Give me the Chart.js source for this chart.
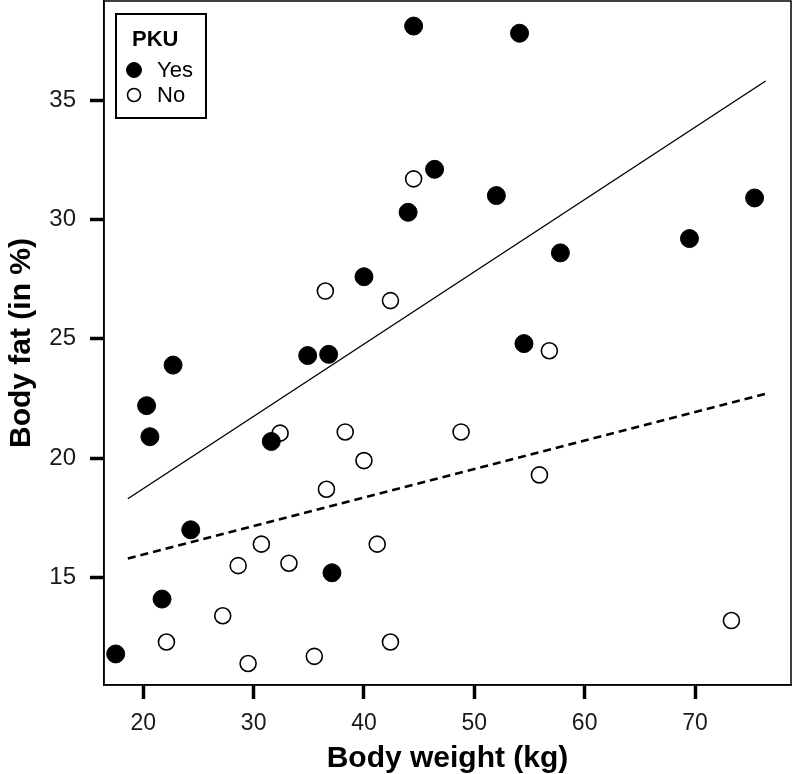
<!DOCTYPE html>
<html>
<head>
<meta charset="utf-8">
<script src="https://cdn.jsdelivr.net/npm/chart.js@4.4.1/dist/chart.umd.min.js"></script>
<style>
  html, body { margin: 0; padding: 0; background: #fff; }
  canvas { display: block; }
</style>
</head>
<body>
<canvas id="fatChart" width="793" height="774"></canvas>
<script>
// PKU = Yes (filled dots)
const yesWeight = [17.5, 20.3, 20.6, 22.7, 21.7, 24.3, 31.6, 34.9, 36.8, 37.1, 40.0, 44.0, 44.5, 46.4, 52.0, 54.1, 54.5, 57.8, 69.5, 75.4];
const yesFat    = [11.8, 22.2, 20.9, 23.9, 14.1, 17.0, 20.7, 24.3, 24.35, 15.2, 27.6, 30.3, 38.1, 32.1, 31.0, 37.8, 24.8, 28.6, 29.2, 30.9];

// PKU = No (open dots)
const noWeight = [22.1, 27.2, 28.6, 29.5, 30.7, 32.4, 33.2, 35.5, 36.5, 36.6, 38.3, 40.0, 41.2, 42.4, 42.4, 44.5, 48.8, 55.9, 56.8, 73.3];
const noFat    = [12.3, 13.4, 15.5, 11.4, 16.4, 21.05, 15.6, 11.7, 27.0, 18.7, 21.1, 19.9, 16.4, 12.3, 26.6, 31.7, 21.1, 19.3, 24.5, 13.2];

// fitted lines, read at both ends
const yesFitWeight = [18.6, 76.4];
const yesFitFat    = [18.3, 35.8];
const noFitWeight  = [18.6, 76.4];
const noFitFat     = [15.8, 22.7];

const xTickValues = [20, 30, 40, 50, 60, 70];
const yTickValues = [15, 20, 25, 30, 35];

const toPoints = (xs, ys) => xs.map((x, i) => ({ x: x, y: ys[i] }));

const FONT = "'Liberation Sans', Arial, sans-serif";

// frame round the plot area
const frameBox = {
    id: 'frameBox',
    afterDatasetsDraw(chart) {
        const { ctx, chartArea: a } = chart;
        ctx.save();
        ctx.strokeStyle = '#000';
        ctx.lineWidth = 1.5;
        ctx.strokeRect(a.left, a.top, a.right - a.left, a.bottom - a.top);
        ctx.restore();
    }
};

// boxed legend in the top left corner
const pkuLegend = {
    id: 'pkuLegend',
    afterDraw(chart) {
        const { ctx, chartArea: a } = chart;
        const sets = chart.data.datasets.filter(d => d.inLegend);
        const x0 = a.left + 12, y0 = a.top + 13;
        ctx.save();
        ctx.strokeStyle = '#000';
        ctx.lineWidth = 2;
        ctx.fillStyle = '#fff';
        ctx.fillRect(x0, y0, 90, 104);
        ctx.strokeRect(x0, y0, 90, 104);

        ctx.fillStyle = '#000';
        ctx.textBaseline = 'middle';
        ctx.font = "bold 22px " + FONT;
        ctx.fillText('PKU', x0 + 16, y0 + 26);

        ctx.font = "22px " + FONT;
        sets.forEach((d, i) => {
            const cy = y0 + 56 + i * 25;
            ctx.beginPath();
            ctx.arc(x0 + 18, cy, d.legendRadius, 0, Math.PI * 2);
            ctx.fillStyle = d.pointBackgroundColor;
            ctx.fill();
            ctx.lineWidth = d.pointBorderWidth;
            ctx.strokeStyle = '#000';
            ctx.stroke();
            ctx.fillStyle = '#000';
            ctx.fillText(d.label, x0 + 41, cy + 1);
        });
        ctx.restore();
    }
};

new Chart(document.getElementById('fatChart').getContext('2d'), {
    type: 'scatter',
    data: {
        datasets: [
            {
                label: 'Yes',
                inLegend: true,
                legendRadius: 7.5,
                data: toPoints(yesWeight, yesFat),
                pointRadius: 9,
                pointBackgroundColor: '#000',
                pointBorderColor: '#000',
                pointBorderWidth: 1,
                order: 1
            },
            {
                label: 'No',
                inLegend: true,
                legendRadius: 6.5,
                data: toPoints(noWeight, noFat),
                pointRadius: 8,
                pointBackgroundColor: '#fff',
                pointBorderColor: '#000',
                pointBorderWidth: 1.6,
                order: 1
            },
            {
                label: 'Fit yes',
                type: 'line',
                data: toPoints(yesFitWeight, yesFitFat),
                borderColor: '#000',
                borderWidth: 1.4,
                pointRadius: 0,
                fill: false,
                order: 2
            },
            {
                label: 'Fit no',
                type: 'line',
                data: toPoints(noFitWeight, noFitFat),
                borderColor: '#000',
                borderWidth: 2.6,
                borderDash: [8, 5],
                pointRadius: 0,
                fill: false,
                order: 2
            }
        ]
    },
    options: {
        responsive: false,
        animation: false,
        layout: { autoPadding: false, padding: { top: 1, right: 2, left: 0, bottom: 0 } },
        plugins: {
            legend: { display: false },
            tooltip: { enabled: false }
        },
        scales: {
            x: {
                type: 'linear',
                min: 16.44,
                max: 78.7,
                afterBuildTicks: (scale) => { scale.ticks = xTickValues.map(v => ({ value: v })); },
                afterFit: (scale) => {
                    scale.height = 89;
                    scale.paddingLeft = 0;
                    scale.paddingRight = 0;
                },
                border: { display: true, color: '#000', width: 1.5 },
                grid: { drawOnChartArea: false, drawTicks: true, tickLength: 14, tickWidth: 3.5, tickColor: '#000' },
                ticks: { color: '#1a1a1a', font: { family: FONT, size: 23 }, padding: 11, maxRotation: 0 },
                title: {
                    display: true,
                    text: 'Body weight (kg)',
                    color: '#000',
                    font: { family: FONT, size: 30, weight: 'bold' },
                    padding: { top: 0, bottom: -3 }
                }
            },
            y: {
                type: 'linear',
                min: 10.5,
                max: 39.15,
                afterBuildTicks: (scale) => { scale.ticks = yTickValues.map(v => ({ value: v })); },
                afterFit: (scale) => {
                    scale.width = 104;
                    scale.paddingTop = 0;
                    scale.paddingBottom = 0;
                },
                border: { display: true, color: '#000', width: 1.5 },
                grid: { drawOnChartArea: false, drawTicks: true, tickLength: 14, tickWidth: 3.5, tickColor: '#000' },
                ticks: { color: '#1a1a1a', font: { family: FONT, size: 24 }, padding: 14 },
                title: {
                    display: true,
                    text: 'Body fat (in %)',
                    color: '#000',
                    font: { family: FONT, size: 30, weight: 'bold' },
                    padding: { top: 4, bottom: 0 }
                }
            }
        }
    },
    plugins: [frameBox, pkuLegend]
});
</script>
</body>
</html>
